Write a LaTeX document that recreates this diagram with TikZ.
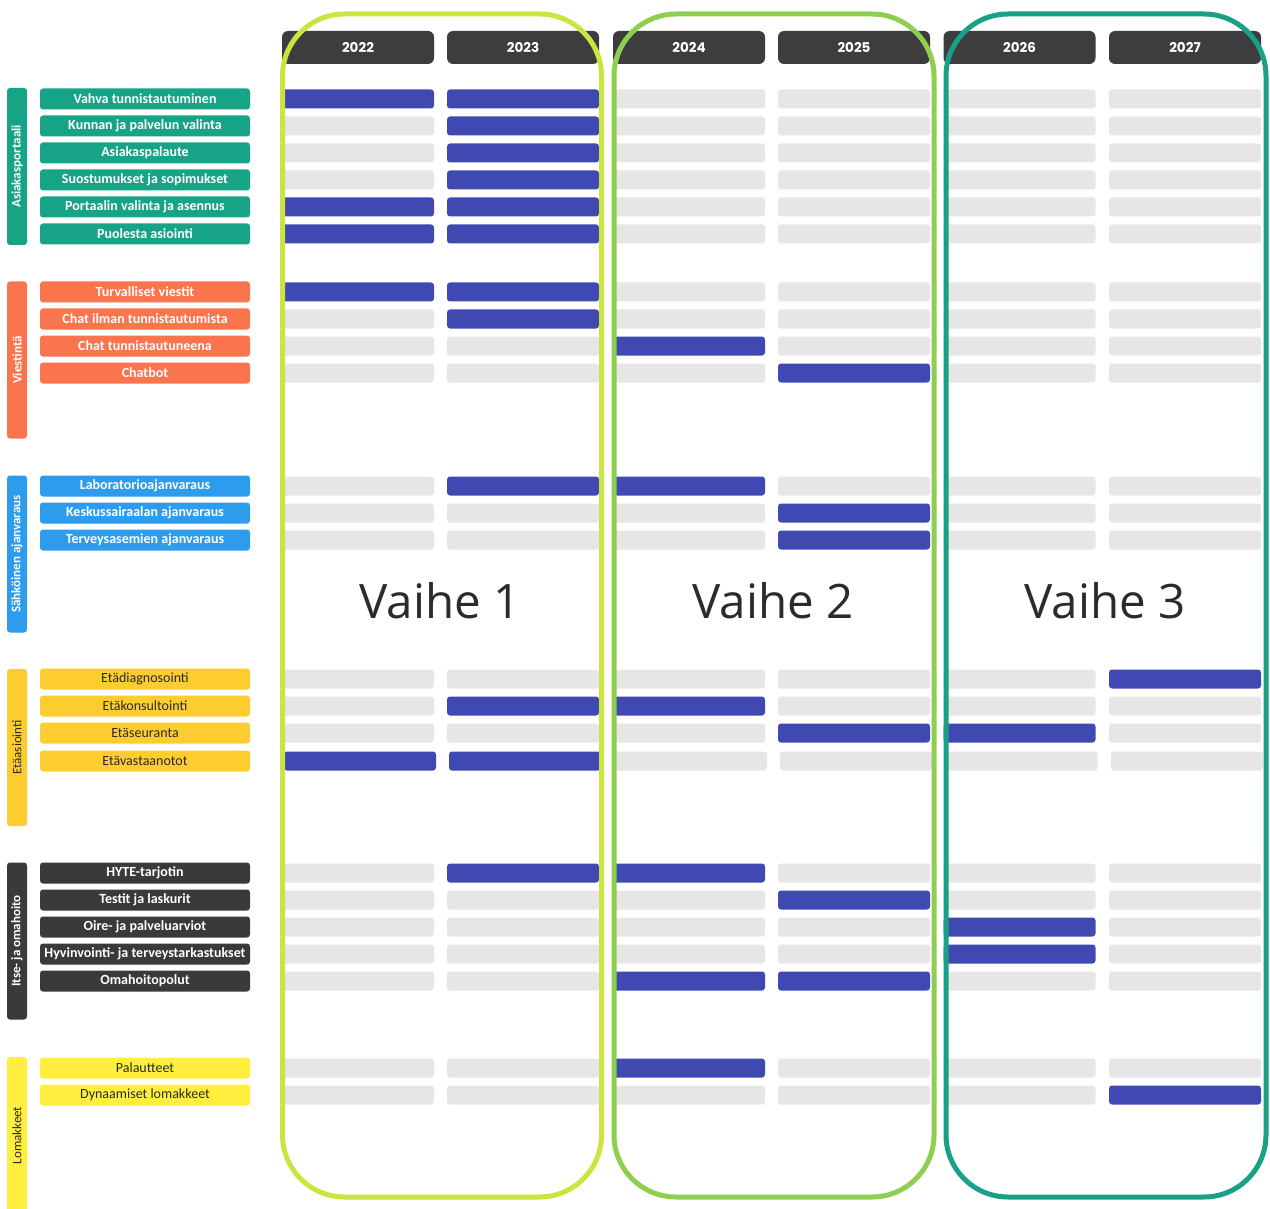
\documentclass[tikz,border=0pt]{standalone}
\usepackage{fontspec}
\setmainfont{Carlito}
\newfontfamily\yearfont{Poppins}
\newfontfamily\phasefont{Open Sans}

% palette
\definecolor{cPortal}{HTML}{17A386}
\definecolor{cMsg}{HTML}{FA744E}
\definecolor{cBook}{HTML}{2E9CEC}
\definecolor{cRemote}{HTML}{FDCD30}
\definecolor{cSelf}{HTML}{3A3A3A}
\definecolor{cForms}{HTML}{FFEE3E}
\definecolor{cHead}{HTML}{3D3D3F}
\definecolor{cBarOn}{HTML}{3F49B1}
\definecolor{cBarOff}{HTML}{E6E6E6}
\definecolor{cPhaseA}{HTML}{CDE33F}
\definecolor{cPhaseB}{HTML}{8ECF50}
\definecolor{cPhaseC}{HTML}{18A186}
\definecolor{cInk}{HTML}{2B2B2B}

\tikzset{
  yearhead/.style={fill=cHead, rounded corners=6pt, minimum width=152pt,
    minimum height=33pt, inner sep=0pt, text=white,
    font=\yearfont\bfseries\fontsize{13.5}{14}\selectfont},
  itembox/.style={rounded corners=3pt, minimum width=210pt, minimum height=21pt,
    inner sep=0pt, font=\bfseries\fontsize{14}{15}\selectfont},
  catbar/.style={rounded corners=3pt, rotate=90, minimum width=157pt,
    minimum height=20pt, inner sep=0pt, font=\bfseries\fontsize{13}{14}\selectfont},
  barOn/.style={fill=cBarOn, rounded corners=3pt, minimum width=152pt,
    minimum height=19pt, inner sep=0pt},
  barOff/.style={fill=cBarOff, rounded corners=3pt, minimum width=152pt,
    minimum height=19pt, inner sep=0pt},
  phasebox/.style={line width=5pt, rounded corners=62pt, inner sep=0pt},
  phaselabel/.style={text=cInk, font=\phasefont\fontsize{47.5}{52}\selectfont},
  portal/.style={fill=cPortal, text=white},
  msg/.style={fill=cMsg, text=white},
  book/.style={fill=cBook, text=white},
  remote/.style={fill=cRemote, text=cInk, font=\fontsize{14}{15}\selectfont},
  self/.style={fill=cSelf, text=white},
  forms/.style={fill=cForms, text=cInk, font=\fontsize{14}{15}\selectfont},
}

\newcount\rowno
\def\rowshift{0}
% one task row: y, category style, label, then the six yearly cells
\newcommand\taskrow[9]{%
  \global\advance\rowno by 1
  \node[itembox,#2] (lab\the\rowno) at (145,#1) {#3};
  \node[#4] (r\the\rowno c1) at (358+\rowshift,#1) {};
  \node[#5] (r\the\rowno c2) at (523+\rowshift,#1) {};
  \node[#6] (r\the\rowno c3) at (689+\rowshift,#1) {};
  \node[#7] (r\the\rowno c4) at (854+\rowshift,#1) {};
  \node[#8] (r\the\rowno c5) at (1019.5+\rowshift,#1) {};
  \node[#9] (r\the\rowno c6) at (1185+\rowshift,#1) {};
}

\begin{document}
\begin{tikzpicture}[x=1pt,y=-1pt]
\clip (0,0) rectangle (1270,1209);
\fill[white] (0,0) rectangle (1270,1209);

% year headers
\node[yearhead] (y2022) at (358,47.5) {2022};
\node[yearhead] (y2023) at (523,47.5) {2023};
\node[yearhead] (y2024) at (689,47.5) {2024};
\node[yearhead] (y2025) at (854,47.5) {2025};
\node[yearhead] (y2026) at (1019.5,47.5) {2026};
\node[yearhead] (y2027) at (1185,47.5) {2027};

% category bars
\node[catbar,portal] (catPortal) at (17,166.5) {Asiakasportaali};
\node[catbar,msg]    (catMsg)    at (17,360)   {Viestintä};
\node[catbar,book]   (catBook)   at (17,554)   {Sähköinen ajanvaraus};
\node[catbar,remote,font=\fontsize{13}{14}\selectfont] (catRemote) at (17,747.5) {Etäasiointi};
\node[catbar,self]   (catSelf)   at (17,941)   {Itse- ja omahoito};
\node[catbar,forms,font=\fontsize{13}{14}\selectfont]  (catForms)  at (17,1135.5){Lomakkeet};

% Asiakasportaali
\taskrow{99}{portal}{Vahva tunnistautuminen}{barOn}{barOn}{barOff}{barOff}{barOff}{barOff}
\taskrow{126}{portal}{Kunnan ja palvelun valinta}{barOff}{barOn}{barOff}{barOff}{barOff}{barOff}
\taskrow{153}{portal}{Asiakaspalaute}{barOff}{barOn}{barOff}{barOff}{barOff}{barOff}
\taskrow{180}{portal}{Suostumukset ja sopimukset}{barOff}{barOn}{barOff}{barOff}{barOff}{barOff}
\taskrow{207}{portal}{Portaalin valinta ja asennus}{barOn}{barOn}{barOff}{barOff}{barOff}{barOff}
\taskrow{234}{portal}{Puolesta asiointi}{barOn}{barOn}{barOff}{barOff}{barOff}{barOff}

% Viestintä
\taskrow{292}{msg}{Turvalliset viestit}{barOn}{barOn}{barOff}{barOff}{barOff}{barOff}
\taskrow{319}{msg}{Chat ilman tunnistautumista}{barOff}{barOn}{barOff}{barOff}{barOff}{barOff}
\taskrow{346}{msg}{Chat tunnistautuneena}{barOff}{barOff}{barOn}{barOff}{barOff}{barOff}
\taskrow{373}{msg}{Chatbot}{barOff}{barOff}{barOff}{barOn}{barOff}{barOff}

% Sähköinen ajanvaraus
\taskrow{486}{book}{Laboratorioajanvaraus}{barOff}{barOn}{barOn}{barOff}{barOff}{barOff}
\taskrow{513}{book}{Keskussairaalan ajanvaraus}{barOff}{barOff}{barOff}{barOn}{barOff}{barOff}
\taskrow{540}{book}{Terveysasemien ajanvaraus}{barOff}{barOff}{barOff}{barOn}{barOff}{barOff}

% Etäasiointi
\taskrow{679}{remote}{Etädiagnosointi}{barOff}{barOff}{barOff}{barOff}{barOff}{barOn}
\taskrow{706}{remote}{Etäkonsultointi}{barOff}{barOn}{barOn}{barOff}{barOff}{barOff}
\taskrow{733}{remote}{Etäseuranta}{barOff}{barOff}{barOff}{barOn}{barOn}{barOff}
\def\rowshift{2}
\taskrow{761}{remote}{Etävastaanotot}{barOn}{barOn}{barOff}{barOff}{barOff}{barOff}
\def\rowshift{0}

% Itse- ja omahoito
\taskrow{873}{self}{HYTE-tarjotin}{barOff}{barOn}{barOn}{barOff}{barOff}{barOff}
\taskrow{900}{self}{Testit ja laskurit}{barOff}{barOff}{barOff}{barOn}{barOff}{barOff}
\taskrow{927}{self}{Oire- ja palveluarviot}{barOff}{barOff}{barOff}{barOff}{barOn}{barOff}
\taskrow{954}{self}{Hyvinvointi- ja terveystarkastukset}{barOff}{barOff}{barOff}{barOff}{barOn}{barOff}
\taskrow{981}{self}{Omahoitopolut}{barOff}{barOff}{barOn}{barOn}{barOff}{barOff}

% Lomakkeet
\taskrow{1068}{forms}{Palautteet}{barOff}{barOff}{barOn}{barOff}{barOff}{barOff}
\taskrow{1095}{forms}{Dynaamiset lomakkeet}{barOff}{barOff}{barOff}{barOff}{barOff}{barOn}

% phase frames and titles
\node[phasebox,draw=cPhaseA,minimum width=319pt,minimum height=1183pt] (phase1) at (442,605.5) {};
\node[phasebox,draw=cPhaseB,minimum width=320pt,minimum height=1183pt] (phase2) at (774,605.5) {};
\node[phasebox,draw=cPhaseC,minimum width=320pt,minimum height=1183pt] (phase3) at (1106,605.5) {};
\node[phaselabel] (title1) at (440,601) {Vaihe 1};
\node[phaselabel] (title2) at (773,601) {Vaihe 2};
\node[phaselabel] (title3) at (1105,601) {Vaihe 3};
\end{tikzpicture}
\end{document}
